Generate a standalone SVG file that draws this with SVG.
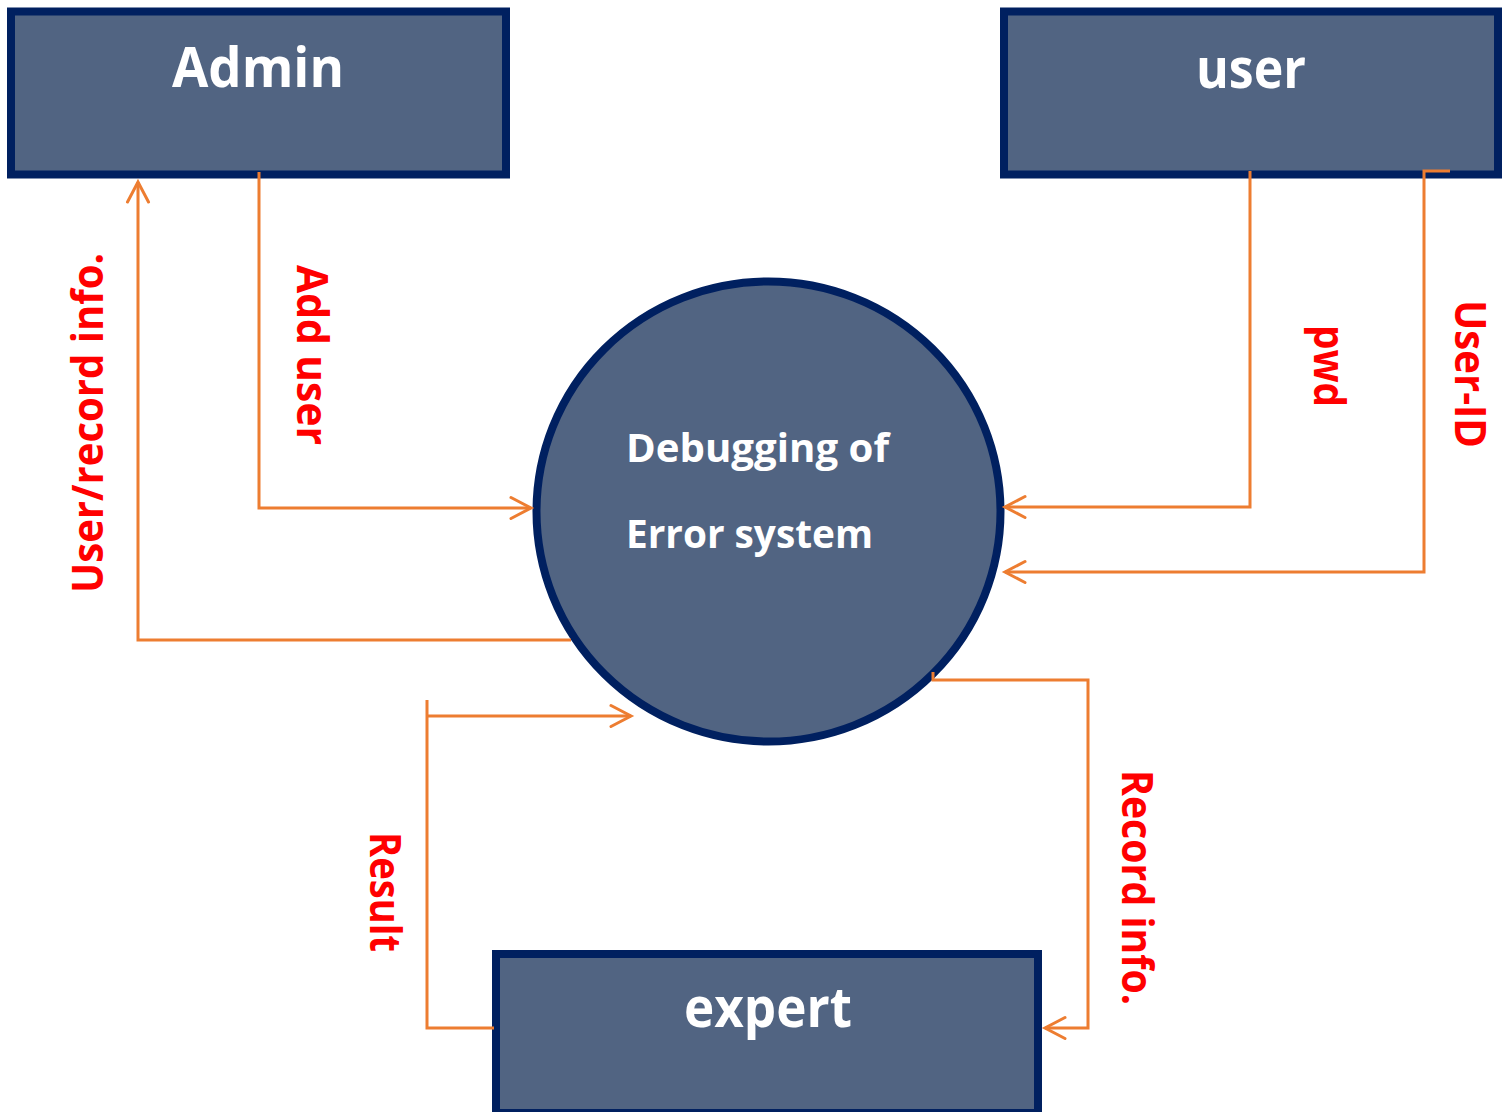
<svg xmlns="http://www.w3.org/2000/svg" width="1510" height="1112" viewBox="0 0 1510 1112">
<style>
.box{fill:#516482;stroke:#002060;stroke-width:8}
.ntext{font-family:"Open Sans","Noto Sans",sans-serif;font-weight:bold;fill:#ffffff}
.conn{fill:none;stroke:#ED7D31;stroke-width:3}
.lbl{font-family:"Open Sans","Noto Sans",sans-serif;font-weight:bold;font-size:43px;fill:#FF0000}
</style>
<defs>
<marker id="arr" markerUnits="userSpaceOnUse" markerWidth="26" markerHeight="26" viewBox="-22 -13 26 26" refX="0" refY="0" orient="auto">
<path d="M-20,-10.5 L0,0 L-20,10.5" fill="none" stroke="#ED7D31" stroke-width="3" stroke-linecap="round" stroke-linejoin="miter"/>
</marker>
</defs>
<rect width="1510" height="1112" fill="#ffffff"/>
<g id="admin">
<rect class="box" x="11" y="11.5" width="495" height="163"/>
<text class="ntext" x="172" y="87" font-size="56" textLength="172" lengthAdjust="spacingAndGlyphs">Admin</text>
</g>
<g id="user">
<rect class="box" x="1004" y="11.5" width="494" height="163"/>
<text class="ntext" x="1196" y="88" font-size="56" textLength="110" lengthAdjust="spacingAndGlyphs">user</text>
</g>
<g id="system">
<ellipse cx="768.5" cy="511.5" rx="232" ry="230" fill="#516482" stroke="#002060" stroke-width="8"/>
<text class="ntext" x="626" y="462" font-size="39" textLength="263" lengthAdjust="spacingAndGlyphs">Debugging of</text>
<text class="ntext" x="626" y="548" font-size="39" textLength="247" lengthAdjust="spacingAndGlyphs">Error system</text>
</g>
<g id="expert">
<rect class="box" x="496" y="954" width="542" height="159"/>
<text class="ntext" x="684" y="1027" font-size="56" textLength="168" lengthAdjust="spacingAndGlyphs">expert</text>
</g>
<g id="connectors">
<path class="conn" d="M259,172 V508 H531" marker-end="url(#arr)"/>
<path class="conn" d="M571,640 H138 V182" marker-end="url(#arr)"/>
<path class="conn" d="M1250,171 V507 H1005" marker-end="url(#arr)"/>
<path class="conn" d="M1450,171 H1424 V572 H1005" marker-end="url(#arr)"/>
<path class="conn" d="M933,672 V680 H1088 V1028 H1045" marker-end="url(#arr)"/>
<path class="conn" d="M494,1028 H427 V700"/>
<path class="conn" d="M427,716 H631" marker-end="url(#arr)"/>
</g>
<g id="labels">
<text class="lbl" transform="translate(103,593) rotate(-90)" textLength="340" lengthAdjust="spacingAndGlyphs">User/record info.</text>
<text class="lbl" transform="translate(297,265) rotate(90)" textLength="180" lengthAdjust="spacingAndGlyphs">Add user</text>
<text class="lbl" transform="translate(1314,325) rotate(90)" textLength="82" lengthAdjust="spacingAndGlyphs">pwd</text>
<text class="lbl" transform="translate(1455,300) rotate(90)" textLength="148" lengthAdjust="spacingAndGlyphs">User-ID</text>
<text class="lbl" transform="translate(1122,770) rotate(90)" textLength="235" lengthAdjust="spacingAndGlyphs">Record info.</text>
<text class="lbl" transform="translate(370,832) rotate(90)" textLength="120" lengthAdjust="spacingAndGlyphs">Result</text>
</g>
</svg>
